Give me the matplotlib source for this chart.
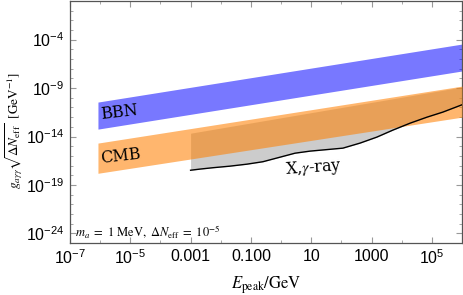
import numpy as np
import matplotlib
matplotlib.use("Agg")
import matplotlib.pyplot as plt
from matplotlib.ticker import FixedLocator, FixedFormatter, LogLocator, NullFormatter

plt.rcParams['mathtext.fontset'] = 'stix'
plt.rcParams['font.family'] = 'Liberation Sans'

# band edges (E_peak in GeV, coupling in GeV^-1)
bbn_x = [8.5e-7, 1e6]
bbn_lo = [5.8e-14, 5.8e-8]
bbn_hi = [3.6e-11, 3.5e-5]

cmb_x = [8.5e-7, 1e6]
cmb_lo = [1.6e-18, 1.0e-12]
cmb_hi = [2.1e-15, 1.6e-9]

# X, gamma-ray bound
xray_x = [1.0e-3, 2.0e-3, 5.5e-3, 2.0e-2, 7.4e-2, 0.25, 0.93, 2.9, 9.1, 112, 417,
          1.5e3, 5.1e3, 1.9e4, 6.9e4, 2.3e5, 1e6]
xray_y = [3.3e-18, 4.3e-18, 6.0e-18, 8.7e-18, 1.4e-17, 2.5e-17, 7.4e-17, 1.9e-16, 3.1e-16,
          6.3e-16, 2.1e-15, 8.7e-15, 4.6e-14, 2.4e-13, 1.0e-12, 3.3e-12, 1.9e-11]
xray_top_x = [1e-3, 1e6]
xray_top_y = [2.2e-14, 1.3e-9]

xticks = [1e-7, 1e-5, 1e-3, 1e-1, 1e1, 1e3, 1e5]
xlabels = [r'$\mathregular{10^{-7}}$', r'$\mathregular{10^{-5}}$', '0.001', '0.100', '10', '1000',
           r'$\mathregular{10^{5}}$']
yticks = [1e-24, 1e-19, 1e-14, 1e-9, 1e-4]
ylabels = [r'$\mathregular{10^{-24}}$', r'$\mathregular{10^{-19}}$', r'$\mathregular{10^{-14}}$',
           r'$\mathregular{10^{-9}}$', r'$\mathregular{10^{-4}}$']

fig = plt.figure(figsize=(4.63, 2.95), dpi=100)
ax = fig.add_axes([0.151, 0.176, 0.847, 0.821])
ax.set_xscale('log')
ax.set_yscale('log')
ax.set_xlim(1e-7, 1e6)
ax.set_ylim(1e-25, 1e0)

# grey excluded region, top edge interpolated in log space
top_interp = 10 ** np.interp(np.log10(xray_x), np.log10(xray_top_x), np.log10(xray_top_y))
ax.fill_between(xray_x, xray_y, top_interp, color='#cccccc', lw=0, zorder=1)
ax.plot(xray_x, xray_y, color='black', lw=1.0, zorder=4)

ax.fill_between(bbn_x, bbn_lo, bbn_hi, color='#0000ff', alpha=0.53, lw=0, zorder=2)
ax.fill_between(cmb_x, cmb_lo, cmb_hi, color='#ff8000', alpha=0.57, lw=0, zorder=3)

ax.text(1.07e-6, 6.3e-13, 'BBN', family='DejaVu Serif', fontsize=11.5, rotation=6.5,
        rotation_mode='anchor', ha='left', va='baseline', zorder=5)
ax.text(1.07e-6, 1.8e-17, 'CMB', family='DejaVu Serif', fontsize=11.5, rotation=6.5,
        rotation_mode='anchor', ha='left', va='baseline', zorder=5)
ax.text(1.45, 1.5e-18, r'X,$\gamma$-ray', family='DejaVu Serif', fontsize=11.5, rotation=4,
        rotation_mode='anchor', ha='left', va='baseline', zorder=5)
ax.text(0.012, 0.045, r'$m_a\ =\ 1\ \mathrm{MeV},\ \Delta N_{\rm eff}\ =\ 10^{-5}$', transform=ax.transAxes,
        fontsize=9, ha='left', va='center')

ax.xaxis.set_major_locator(FixedLocator(xticks))
ax.xaxis.set_major_formatter(FixedFormatter(xlabels))
ax.xaxis.set_minor_locator(FixedLocator([1e-6, 1e-4, 1e-2, 1e0, 1e2, 1e4, 1e6]))
ax.xaxis.set_minor_formatter(NullFormatter())
ax.yaxis.set_major_locator(FixedLocator(yticks))
ax.yaxis.set_major_formatter(FixedFormatter(ylabels))
ax.yaxis.set_minor_locator(LogLocator(base=10, subs=[1.0], numticks=40))
ax.yaxis.set_minor_formatter(NullFormatter())

ax.tick_params(which='both', direction='in', top=True, right=True, color='#999999')
ax.tick_params(which='major', length=4, labelsize=11.5, pad=4)
ax.tick_params(which='minor', length=2)
for s in ax.spines.values():
    s.set_color('#555555')
    s.set_linewidth(0.9)

ax.set_xlabel(r'$E_{\rm peak}/\mathrm{GeV}$', fontsize=12)
ax.xaxis.set_label_coords(0.5, -0.13)
ax.set_ylabel(r'$g_{a\gamma\gamma}\sqrt{\Delta N_{\rm eff}}\ \ [\mathrm{GeV}^{-1}]$', fontsize=9.5)
ax.yaxis.set_label_coords(-0.115, 0.467)

fig.savefig('out.png', dpi=100)
